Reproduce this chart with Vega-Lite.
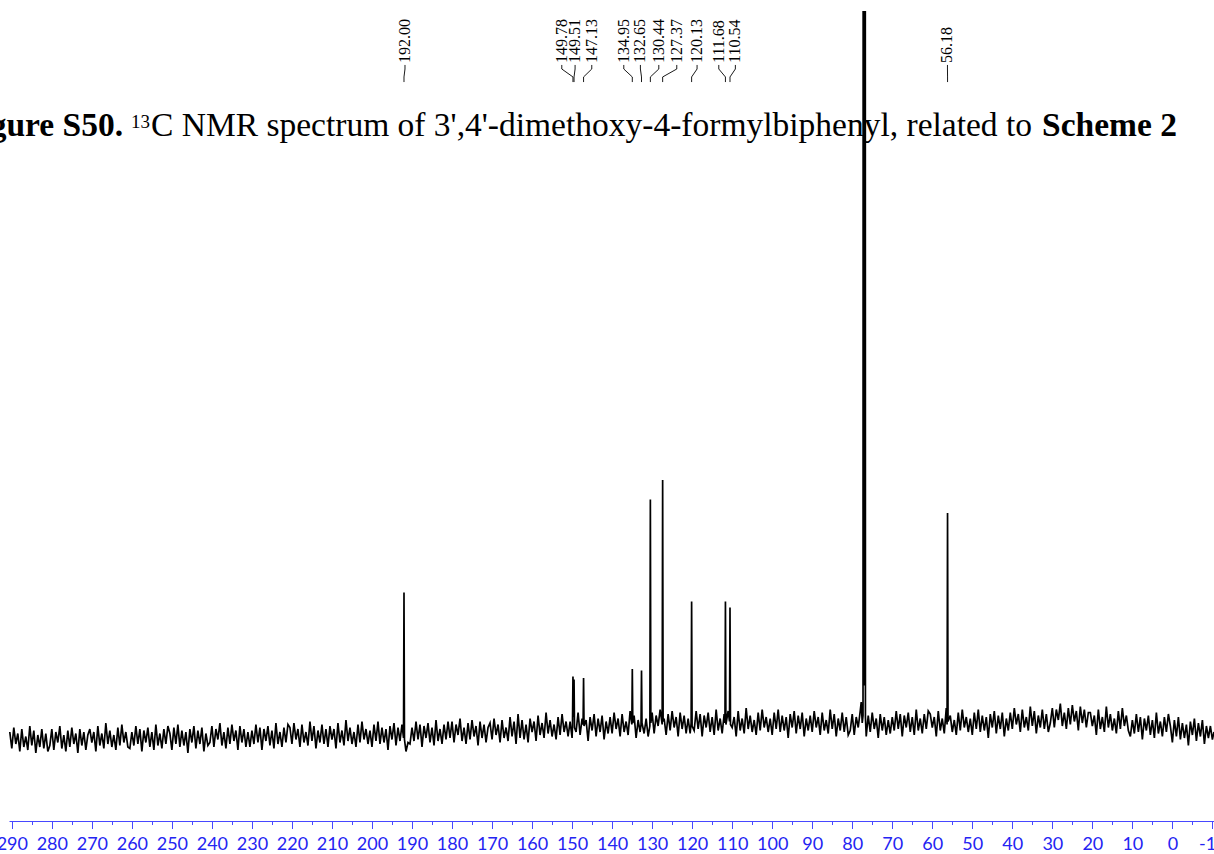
{
"$schema": "https://vega.github.io/schema/vega-lite/v6.json",
"width": 1205, "height": 810,
"autosize": {"type": "none"},
"padding": {"left": 9, "top": 11, "right": 0, "bottom": 33},
"background": "white",
"config": {"view": {"stroke": null}},
"datasets": {
"spec": [
{"p":290.5,"v":2},{"p":290,"v":-9},{"p":289.5,"v":5},{"p":289,"v":-6},{"p":288.5,"v":1},{"p":288,"v":-11},{"p":287.5,"v":4},{"p":287,"v":-8},{"p":286.5,"v":-1},{"p":286,"v":-10},{"p":285.5,"v":6},{"p":285,"v":-7},{"p":284.5,"v":3},{"p":284,"v":-12},{"p":283.5,"v":0},{"p":283,"v":-8},{"p":282.5,"v":4},{"p":282,"v":-9},{"p":281.5,"v":1},{"p":281,"v":-11},
{"p":280.5,"v":-7},{"p":280,"v":4},{"p":279.5,"v":-10},{"p":279,"v":2},{"p":278.5,"v":-5},{"p":278,"v":6},{"p":277.5,"v":-9},{"p":277,"v":0},{"p":276.5,"v":-11},{"p":276,"v":3},{"p":275.5,"v":-8},{"p":275,"v":5},{"p":274.5,"v":-6},{"p":274,"v":1},{"p":273.5,"v":-12},{"p":273,"v":4},{"p":272.5,"v":-7},{"p":272,"v":2},{"p":271.5,"v":-10},{"p":271,"v":0},
{"p":270.5,"v":4},{"p":270,"v":-5},{"p":269.5,"v":2},{"p":269,"v":-11},{"p":268.5,"v":6},{"p":268,"v":-7},{"p":267.5,"v":1},{"p":267,"v":-9},{"p":266.5,"v":8},{"p":266,"v":-6},{"p":265.5,"v":3},{"p":265,"v":-8},{"p":264.5,"v":0},{"p":264,"v":-10},{"p":263.5,"v":5},{"p":263,"v":-7},{"p":262.5,"v":7},{"p":262,"v":-5},{"p":261.5,"v":2},{"p":261,"v":-8},
{"p":260.5,"v":-9},{"p":260,"v":2},{"p":259.5,"v":-7},{"p":259,"v":6},{"p":258.5,"v":-6},{"p":258,"v":4},{"p":257.5,"v":-11},{"p":257,"v":3},{"p":256.5,"v":-5},{"p":256,"v":5},{"p":255.5,"v":-8},{"p":255,"v":2},{"p":254.5,"v":-10},{"p":254,"v":7},{"p":253.5,"v":-7},{"p":253,"v":1},{"p":252.5,"v":-9},{"p":252,"v":4},{"p":251.5,"v":-6},{"p":251,"v":6},
{"p":250.5,"v":1},{"p":250,"v":-10},{"p":249.5,"v":5},{"p":249,"v":-6},{"p":248.5,"v":7},{"p":248,"v":-8},{"p":247.5,"v":3},{"p":247,"v":-7},{"p":246.5,"v":2},{"p":246,"v":-12},{"p":245.5,"v":4},{"p":245,"v":-5},{"p":244.5,"v":6},{"p":244,"v":-9},{"p":243.5,"v":3},{"p":243,"v":-6},{"p":242.5,"v":5},{"p":242,"v":-11},{"p":241.5,"v":1},{"p":241,"v":-7},
{"p":240.5,"v":-5},{"p":240,"v":6},{"p":239.5,"v":-8},{"p":239,"v":4},{"p":238.5,"v":-3},{"p":238,"v":8},{"p":237.5,"v":-7},{"p":237,"v":2},{"p":236.5,"v":-9},{"p":236,"v":5},{"p":235.5,"v":-6},{"p":235,"v":7},{"p":234.5,"v":-4},{"p":234,"v":3},{"p":233.5,"v":-10},{"p":233,"v":6},{"p":232.5,"v":-5},{"p":232,"v":4},{"p":231.5,"v":-8},{"p":231,"v":2},
{"p":230.5,"v":-8},{"p":230,"v":3},{"p":229.5,"v":-6},{"p":229,"v":7},{"p":228.5,"v":-5},{"p":228,"v":5},{"p":227.5,"v":-10},{"p":227,"v":4},{"p":226.5,"v":-4},{"p":226,"v":6},{"p":225.5,"v":-7},{"p":225,"v":3},{"p":224.5,"v":-9},{"p":224,"v":8},{"p":223.5,"v":-6},{"p":223,"v":2},{"p":222.5,"v":-8},{"p":222,"v":5},{"p":221.5,"v":-5},{"p":221,"v":7},
{"p":220.5,"v":5},{"p":220,"v":-6},{"p":219.5,"v":8},{"p":219,"v":-3},{"p":218.5,"v":4},{"p":218,"v":-8},{"p":217.5,"v":7},{"p":217,"v":-5},{"p":216.5,"v":2},{"p":216,"v":-7},{"p":215.5,"v":9},{"p":215,"v":-4},{"p":214.5,"v":6},{"p":214,"v":-9},{"p":213.5,"v":3},{"p":213,"v":-5},{"p":212.5,"v":7},{"p":212,"v":-6},{"p":211.5,"v":4},{"p":211,"v":-8},
{"p":210.5,"v":6},{"p":210,"v":-3},{"p":209.5,"v":4},{"p":209,"v":-9},{"p":208.5,"v":8},{"p":208,"v":-5},{"p":207.5,"v":3},{"p":207,"v":-7},{"p":206.5,"v":10},{"p":206,"v":-4},{"p":205.5,"v":5},{"p":205,"v":-6},{"p":204.5,"v":2},{"p":204,"v":-8},{"p":203.5,"v":7},{"p":203,"v":-5},{"p":202.5,"v":9},{"p":202,"v":-3},{"p":201.5,"v":4},{"p":201,"v":-6},
{"p":200.5,"v":3},{"p":200,"v":-8},{"p":199.5,"v":7},{"p":199,"v":-4},{"p":198.5,"v":9},{"p":198,"v":-6},{"p":197.5,"v":5},{"p":197,"v":-5},{"p":196.5,"v":4},{"p":196,"v":-10},{"p":195.5,"v":6},{"p":195,"v":-3},{"p":194.5,"v":8},{"p":194,"v":-7},{"p":193.5,"v":5},{"p":193,"v":-4},{"p":192.5,"v":7},{"p":192.12,"v":-2},{"p":192.0,"v":95},{"p":191.88,"v":-3},{"p":191.5,"v":-11},{"p":191,"v":-5},
{"p":190.5,"v":-6},{"p":190,"v":5},{"p":189.5,"v":-4},{"p":189,"v":9},{"p":188.5,"v":-3},{"p":188,"v":7},{"p":187.5,"v":-8},{"p":187,"v":6},{"p":186.5,"v":-2},{"p":186,"v":8},{"p":185.5,"v":-5},{"p":185,"v":5},{"p":184.5,"v":-7},{"p":184,"v":10},{"p":183.5,"v":-4},{"p":183,"v":4},{"p":182.5,"v":-6},{"p":182,"v":7},{"p":181.5,"v":-3},{"p":181,"v":9},
{"p":180.5,"v":-2},{"p":180,"v":9},{"p":179.5,"v":-5},{"p":179,"v":7},{"p":178.5,"v":0},{"p":178,"v":11},{"p":177.5,"v":-4},{"p":177,"v":5},{"p":176.5,"v":-6},{"p":176,"v":8},{"p":175.5,"v":-3},{"p":175,"v":10},{"p":174.5,"v":-1},{"p":174,"v":6},{"p":173.5,"v":-7},{"p":173,"v":9},{"p":172.5,"v":-2},{"p":172,"v":7},{"p":171.5,"v":-5},{"p":171,"v":5},
{"p":170.5,"v":8},{"p":170,"v":-3},{"p":169.5,"v":11},{"p":169,"v":0},{"p":168.5,"v":7},{"p":168,"v":-5},{"p":167.5,"v":10},{"p":167,"v":-2},{"p":166.5,"v":5},{"p":166,"v":-4},{"p":165.5,"v":12},{"p":165,"v":-1},{"p":164.5,"v":9},{"p":164,"v":-6},{"p":163.5,"v":14},{"p":163,"v":-2},{"p":162.5,"v":10},{"p":162,"v":-3},{"p":161.5,"v":7},{"p":161,"v":-5},
{"p":160.5,"v":11},{"p":160,"v":2},{"p":159.5,"v":9},{"p":159,"v":-4},{"p":158.5,"v":13},{"p":158,"v":0},{"p":157.5,"v":8},{"p":157,"v":-2},{"p":156.5,"v":15},{"p":156,"v":1},{"p":155.5,"v":10},{"p":155,"v":-1},{"p":154.5,"v":7},{"p":154,"v":-3},{"p":153.5,"v":12},{"p":153,"v":0},{"p":152.5,"v":14},{"p":152,"v":2},{"p":151.5,"v":9},{"p":151,"v":-1},
{"p":150.5,"v":9},{"p":150,"v":-2},{"p":149.9,"v":6},{"p":149.78,"v":39},{"p":149.65,"v":12},{"p":149.51,"v":37},{"p":149.4,"v":5},{"p":149,"v":2},{"p":148.5,"v":15},{"p":148,"v":0},{"p":147.5,"v":11},{"p":147.25,"v":7},{"p":147.13,"v":38},{"p":147.01,"v":6},{"p":146.5,"v":10},{"p":146,"v":-4},{"p":145.5,"v":12},{"p":145,"v":3},{"p":144.5,"v":14},{"p":144,"v":-1},{"p":143.5,"v":11},{"p":143,"v":2},{"p":142.5,"v":13},{"p":142,"v":-3},{"p":141.5,"v":9},{"p":141,"v":1},
{"p":140.5,"v":12},{"p":140,"v":1},{"p":139.5,"v":15},{"p":139,"v":4},{"p":138.5,"v":11},{"p":138,"v":-1},{"p":137.5,"v":14},{"p":137,"v":2},{"p":136.5,"v":9},{"p":136,"v":0},{"p":135.5,"v":16},{"p":135.07,"v":7},{"p":134.95,"v":44},{"p":134.83,"v":8},{"p":134.5,"v":13},{"p":134,"v":-2},{"p":133.5,"v":10},{"p":133,"v":2},{"p":132.77,"v":7},{"p":132.65,"v":43},{"p":132.53,"v":8},{"p":132,"v":1},{"p":131.5,"v":11},{"p":131,"v":-1},
{"p":130.56,"v":6},{"p":130.44,"v":157},{"p":130.32,"v":8},{"p":130,"v":15},{"p":129.5,"v":1},{"p":129,"v":13},{"p":128.5,"v":6},{"p":128,"v":17},{"p":127.49,"v":7},{"p":127.37,"v":170},{"p":127.25,"v":9},{"p":127,"v":11},{"p":126.5,"v":0},{"p":126,"v":14},{"p":125.5,"v":3},{"p":125,"v":16},{"p":124.5,"v":5},{"p":124,"v":12},{"p":123.5,"v":-1},{"p":123,"v":15},{"p":122.5,"v":4},{"p":122,"v":13},{"p":121.5,"v":1},{"p":121,"v":11},
{"p":120.5,"v":1},{"p":120.25,"v":8},{"p":120.13,"v":89},{"p":120.01,"v":6},{"p":119.5,"v":3},{"p":119,"v":16},{"p":118.5,"v":4},{"p":118,"v":14},{"p":117.5,"v":-1},{"p":117,"v":13},{"p":116.5,"v":5},{"p":116,"v":15},{"p":115.5,"v":2},{"p":115,"v":12},{"p":114.5,"v":0},{"p":114,"v":17},{"p":113.5,"v":3},{"p":113,"v":11},{"p":112.5,"v":1},{"p":112,"v":14},{"p":111.8,"v":8},{"p":111.68,"v":89},{"p":111.56,"v":7},{"p":111,"v":16},
{"p":110.66,"v":9},{"p":110.54,"v":85},{"p":110.42,"v":7},{"p":110,"v":5},{"p":109.5,"v":12},{"p":109,"v":-1},{"p":108.5,"v":16},{"p":108,"v":3},{"p":107.5,"v":11},{"p":107,"v":1},{"p":106.5,"v":18},{"p":106,"v":4},{"p":105.5,"v":13},{"p":105,"v":2},{"p":104.5,"v":10},{"p":104,"v":0},{"p":103.5,"v":15},{"p":103,"v":3},{"p":102.5,"v":17},{"p":102,"v":5},{"p":101.5,"v":12},{"p":101,"v":2},
{"p":100.5,"v":11},{"p":100,"v":0},{"p":99.5,"v":15},{"p":99,"v":4},{"p":98.5,"v":17},{"p":98,"v":2},{"p":97.5,"v":13},{"p":97,"v":3},{"p":96.5,"v":12},{"p":96,"v":-2},{"p":95.5,"v":14},{"p":95,"v":5},{"p":94.5,"v":16},{"p":94,"v":1},{"p":93.5,"v":13},{"p":93,"v":4},{"p":92.5,"v":15},{"p":92,"v":-1},{"p":91.5,"v":11},{"p":91,"v":3},
{"p":90.5,"v":13},{"p":90,"v":2},{"p":89.5,"v":16},{"p":89,"v":5},{"p":88.5,"v":12},{"p":88,"v":0},{"p":87.5,"v":15},{"p":87,"v":3},{"p":86.5,"v":10},{"p":86,"v":1},{"p":85.5,"v":17},{"p":85,"v":4},{"p":84.5,"v":14},{"p":84,"v":-1},{"p":83.5,"v":11},{"p":83,"v":3},{"p":82.5,"v":15},{"p":82,"v":2},{"p":81.5,"v":12},{"p":81,"v":0},
{"p":80.5,"v":3},{"p":80,"v":14},{"p":79.5,"v":0},{"p":79,"v":12},{"p":78.5,"v":5},{"p":78,"v":16},{"p":77.75,"v":22},{"p":77.5,"v":8},{"p":77.3,"v":13},{"p":77.16,"v":2000},{"p":77.08,"v":33},{"p":77.0,"v":2000},{"p":76.92,"v":33},{"p":76.84,"v":2000},{"p":76.7,"v":12},{"p":76.5,"v":-1},{"p":76,"v":13},{"p":75.5,"v":2},{"p":75,"v":15},{"p":74.5,"v":4},{"p":74,"v":11},{"p":73.5,"v":-2},{"p":73,"v":14},{"p":72.5,"v":3},{"p":72,"v":12},{"p":71.5,"v":0},{"p":71,"v":10},
{"p":70.5,"v":1},{"p":70,"v":12},{"p":69.5,"v":3},{"p":69,"v":16},{"p":68.5,"v":4},{"p":68,"v":14},{"p":67.5,"v":-1},{"p":67,"v":13},{"p":66.5,"v":5},{"p":66,"v":15},{"p":65.5,"v":2},{"p":65,"v":12},{"p":64.5,"v":0},{"p":64,"v":17},{"p":63.5,"v":3},{"p":63,"v":11},{"p":62.5,"v":1},{"p":62,"v":14},{"p":61.5,"v":4},{"p":61,"v":16},
{"p":60.5,"v":14},{"p":60,"v":5},{"p":59.5,"v":12},{"p":59,"v":-1},{"p":58.5,"v":16},{"p":58,"v":3},{"p":57.5,"v":11},{"p":57,"v":1},{"p":56.5,"v":18},{"p":56.3,"v":7},{"p":56.18,"v":148},{"p":56.06,"v":9},{"p":55.5,"v":13},{"p":55,"v":2},{"p":54.5,"v":10},{"p":54,"v":0},{"p":53.5,"v":15},{"p":53,"v":3},{"p":52.5,"v":17},{"p":52,"v":5},{"p":51.5,"v":12},{"p":51,"v":2},
{"p":50.5,"v":11},{"p":50,"v":0},{"p":49.5,"v":15},{"p":49,"v":4},{"p":48.5,"v":17},{"p":48,"v":2},{"p":47.5,"v":13},{"p":47,"v":3},{"p":46.5,"v":12},{"p":46,"v":-2},{"p":45.5,"v":14},{"p":45,"v":5},{"p":44.5,"v":16},{"p":44,"v":1},{"p":43.5,"v":13},{"p":43,"v":4},{"p":42.5,"v":15},{"p":42,"v":-1},{"p":41.5,"v":11},{"p":41,"v":3},
{"p":40.5,"v":15},{"p":40,"v":4},{"p":39.5,"v":18},{"p":39,"v":7},{"p":38.5,"v":14},{"p":38,"v":2},{"p":37.5,"v":17},{"p":37,"v":5},{"p":36.5,"v":12},{"p":36,"v":3},{"p":35.5,"v":19},{"p":35,"v":6},{"p":34.5,"v":16},{"p":34,"v":1},{"p":33.5,"v":13},{"p":33,"v":5},{"p":32.5,"v":17},{"p":32,"v":4},{"p":31.5,"v":14},{"p":31,"v":2},
{"p":30.5,"v":8},{"p":30,"v":18},{"p":29.5,"v":5},{"p":29,"v":17},{"p":28.5,"v":10},{"p":28,"v":21},{"p":27.5,"v":6},{"p":27,"v":15},{"p":26.5,"v":4},{"p":26,"v":18},{"p":25.5,"v":7},{"p":25,"v":20},{"p":24.5,"v":9},{"p":24,"v":16},{"p":23.5,"v":3},{"p":23,"v":19},{"p":22.5,"v":8},{"p":22,"v":17},{"p":21.5,"v":5},{"p":21,"v":15},
{"p":20.5,"v":15},{"p":20,"v":6},{"p":19.5,"v":13},{"p":19,"v":0},{"p":18.5,"v":17},{"p":18,"v":4},{"p":17.5,"v":12},{"p":17,"v":2},{"p":16.5,"v":19},{"p":16,"v":5},{"p":15.5,"v":14},{"p":15,"v":3},{"p":14.5,"v":11},{"p":14,"v":1},{"p":13.5,"v":16},{"p":13,"v":4},{"p":12.5,"v":18},{"p":12,"v":6},{"p":11.5,"v":13},{"p":11,"v":3},
{"p":10.5,"v":-1},{"p":10,"v":10},{"p":9.5,"v":1},{"p":9,"v":14},{"p":8.5,"v":2},{"p":8,"v":12},{"p":7.5,"v":-3},{"p":7,"v":11},{"p":6.5,"v":3},{"p":6,"v":13},{"p":5.5,"v":0},{"p":5,"v":10},{"p":4.5,"v":-2},{"p":4,"v":15},{"p":3.5,"v":1},{"p":3,"v":9},{"p":2.5,"v":-1},{"p":2,"v":12},{"p":1.5,"v":2},{"p":1,"v":14},
{"p":0.5,"v":6},{"p":0,"v":-5},{"p":-0.5,"v":10},{"p":-1,"v":-1},{"p":-1.5,"v":12},{"p":-2,"v":-3},{"p":-2.5,"v":8},{"p":-3,"v":-2},{"p":-3.5,"v":7},{"p":-4,"v":-7},{"p":-4.5,"v":9},{"p":-5,"v":0},{"p":-5.5,"v":11},{"p":-6,"v":-4},{"p":-6.5,"v":8},{"p":-7,"v":-1},{"p":-7.5,"v":10},{"p":-8,"v":-6},{"p":-8.5,"v":6},{"p":-9,"v":-2},
{"p":-9.5,"v":6},{"p":-10,"v":-3},{"p":-10.4,"v":2}
],
"peaks": [
{"t":"192.00","pk":192.00,"lp":191.75},
{"t":"149.78","pk":149.78,"lp":152.57},
{"t":"149.51","pk":149.51,"lp":149.25},
{"t":"147.13","pk":147.13,"lp":145.08},
{"t":"134.95","pk":134.95,"lp":137.08},
{"t":"132.65","pk":132.65,"lp":132.93},
{"t":"130.44","pk":130.44,"lp":128.33},
{"t":"127.37","pk":127.37,"lp":123.84},
{"t":"120.13","pk":120.13,"lp":118.77},
{"t":"111.68","pk":111.68,"lp":113.34},
{"t":"110.54","pk":110.54,"lp":109.20},
{"t":"56.18","pk":56.18,"lp":56.2}
]
},
"resolve": {"axis": {"x": "independent"}},
"layer": [
{
"data": {"name": "spec"},
"mark": {"type": "line", "color": "#000000", "strokeWidth": 1.7, "clip": true},
"encoding": {
"x": {"field": "p", "type": "quantitative",
 "scale": {"domain": [-10.4, 290.7], "reverse": true, "nice": false, "zero": false},
 "axis": {"orient": "bottom", "values": [290,280,270,260,250,240,230,220,210,200,190,180,170,160,150,140,130,120,110,100,90,80,70,60,50,40,30,20,10,0,-10],
  "title": null, "grid": false, "tickSize": 7.5, "tickWidth": 1, "tickColor": "#4848ff", "domainColor": "#4848ff", "domainWidth": 1,
  "labelColor": "#2424f2", "labelFont": "Lato", "labelFontSize": 18, "labelPadding": 7, "labelFlush": false, "labelOverlap": false,
  "labelExpr": "datum.value < 0 ? '-' + abs(datum.value) : '' + datum.value"}},
"y": {"field": "v", "type": "quantitative", "scale": {"domain": [-57.33, 482.67], "nice": false, "zero": false}, "axis": null}
}
},
{
"data": {"name": "peaks"},
"mark": {"type": "rule", "color": "#000000", "strokeWidth": 0.9},
"encoding": {
"x": {"field": "lp", "type": "quantitative",
 "scale": {"domain": [-10.4, 290.7], "reverse": true, "nice": false, "zero": false},
 "axis": {"orient": "bottom", "values": [285,275,265,255,245,235,225,215,205,195,185,175,165,155,145,135,125,115,105,95,85,75,65,55,45,35,25,15,5,-5],
  "title": null, "grid": false, "labels": false, "domain": false, "tickSize": 3.5, "tickWidth": 1, "tickColor": "#4848ff"}},
"y": {"datum": 446.7, "type": "quantitative", "scale": {"domain": [-57.33, 482.67], "nice": false, "zero": false}, "axis": null},
"y2": {"datum": 444}
}
},
{
"data": {"name": "peaks"},
"mark": {"type": "rule", "color": "#000000", "strokeWidth": 0.9},
"encoding": {
"x": {"field": "lp", "type": "quantitative", "scale": {"domain": [-10.4, 290.7], "reverse": true, "nice": false, "zero": false}, "axis": null},
"x2": {"field": "pk"},
"y": {"datum": 444, "type": "quantitative", "scale": {"domain": [-57.33, 482.67], "nice": false, "zero": false}, "axis": null},
"y2": {"datum": 438.7}
}
},
{
"data": {"name": "peaks"},
"mark": {"type": "rule", "color": "#000000", "strokeWidth": 0.9},
"encoding": {
"x": {"field": "pk", "type": "quantitative", "scale": {"domain": [-10.4, 290.7], "reverse": true, "nice": false, "zero": false}, "axis": null},
"y": {"datum": 438.7, "type": "quantitative", "scale": {"domain": [-57.33, 482.67], "nice": false, "zero": false}, "axis": null},
"y2": {"datum": 435.3}
}
},
{
"data": {"name": "peaks"},
"mark": {"type": "text", "angle": 270, "align": "left", "baseline": "middle", "font": "Liberation Serif", "fontSize": 16, "color": "#000000"},
"encoding": {
"x": {"field": "lp", "type": "quantitative", "scale": {"domain": [-10.4, 290.7], "reverse": true, "nice": false, "zero": false}, "axis": null},
"y": {"datum": 448, "type": "quantitative", "scale": {"domain": [-57.33, 482.67], "nice": false, "zero": false}, "axis": null},
"text": {"field": "t"}
}
},
{
"data": {"values": [{"t": "Figure S50."}]},
"mark": {"type": "text", "align": "right", "baseline": "alphabetic", "font": "Liberation Serif", "fontWeight": "bold", "fontSize": 33.5, "color": "#000000"},
"encoding": {
"x": {"datum": 262.19, "type": "quantitative", "scale": {"domain": [-10.4, 290.7], "reverse": true, "nice": false, "zero": false}, "axis": null},
"y": {"datum": 399.3, "type": "quantitative", "scale": {"domain": [-57.33, 482.67], "nice": false, "zero": false}, "axis": null},
"text": {"field": "t"}
}
},
{
"data": {"values": [{"t": "13"}]},
"mark": {"type": "text", "align": "left", "baseline": "alphabetic", "font": "Liberation Serif", "fontSize": 19, "color": "#000000"},
"encoding": {
"x": {"datum": 260.22, "type": "quantitative", "scale": {"domain": [-10.4, 290.7], "reverse": true, "nice": false, "zero": false}, "axis": null},
"y": {"datum": 404.7, "type": "quantitative", "scale": {"domain": [-57.33, 482.67], "nice": false, "zero": false}, "axis": null},
"text": {"field": "t"}
}
},
{
"data": {"values": [{"t": "C NMR spectrum of 3',4'-dimethoxy-4-formylbiphenyl, related to"}]},
"mark": {"type": "text", "align": "left", "baseline": "alphabetic", "font": "Liberation Serif", "fontSize": 33.5, "color": "#000000"},
"encoding": {
"x": {"datum": 255.22, "type": "quantitative", "scale": {"domain": [-10.4, 290.7], "reverse": true, "nice": false, "zero": false}, "axis": null},
"y": {"datum": 399.3, "type": "quantitative", "scale": {"domain": [-57.33, 482.67], "nice": false, "zero": false}, "axis": null},
"text": {"field": "t"}
}
},
{
"data": {"values": [{"t": "Scheme 2"}]},
"mark": {"type": "text", "align": "right", "baseline": "alphabetic", "font": "Liberation Serif", "fontWeight": "bold", "fontSize": 33.5, "color": "#000000"},
"encoding": {
"x": {"datum": -1.15, "type": "quantitative", "scale": {"domain": [-10.4, 290.7], "reverse": true, "nice": false, "zero": false}, "axis": null},
"y": {"datum": 399.3, "type": "quantitative", "scale": {"domain": [-57.33, 482.67], "nice": false, "zero": false}, "axis": null},
"text": {"field": "t"}
}
}
]
}
